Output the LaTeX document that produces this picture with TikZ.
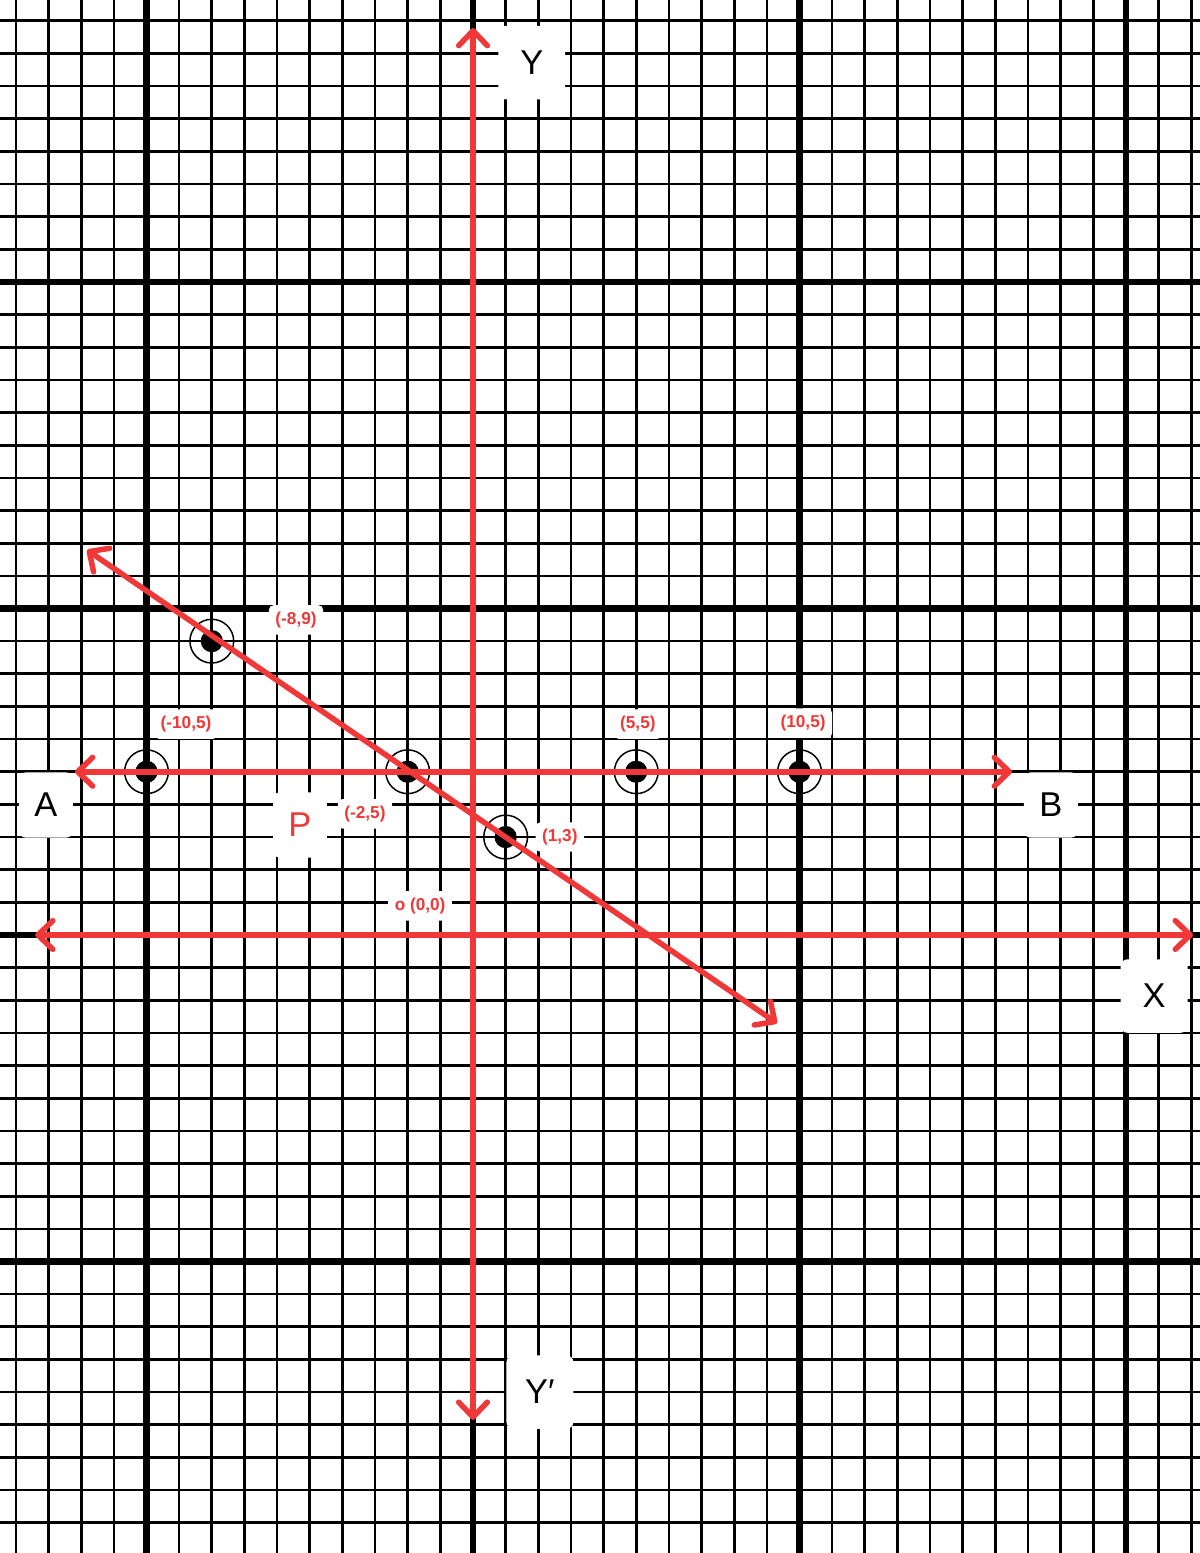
\documentclass[tikz,border=0pt]{standalone}
\usepackage{fontspec}
\setmainfont{Liberation Sans}
\usetikzlibrary{arrows.meta}
\definecolor{redln}{RGB}{240,56,56}
\begin{document}
\begin{tikzpicture}[
  ax/.style={redln,line width=4.8pt,{Straight Barb[round,length=13pt,width=25pt]}-{Straight Barb[round,length=13pt,width=25pt]}},
  big/.style={fill=white,rounded corners=6pt,minimum width=1.65cm,minimum height=2cm,font=\fontsize{30}{36}\selectfont},
  axname/.style={big,minimum width=2.05cm,minimum height=2.25cm},
  lbl/.style={fill=white,rounded corners=4pt,text=redln,minimum height=0.9cm,inner xsep=0.2cm,font=\bfseries\fontsize{15}{17}\selectfont},
  dot/.style={circle,fill=black,inner sep=0pt,minimum size=0.68cm},
  ring/.style={circle,draw=black,line width=1.3pt,inner sep=0pt,minimum size=1.34cm}]
\fill[white] (-14.487,-18.928) rectangle (22.266,28.637);
\useasboundingbox (-14.487,-18.928) rectangle (22.266,28.637);
% graph paper
\draw[line width=2.3pt] (-14.487,-18.928) grid (22.266,28.637);
\draw[line width=5.8pt,step=10] (-14.487,-18.928) grid (22.266,28.637);
% labels
\node[axname] (Y) at (1.80,26.72) {Y};
\node[axname] (Yp) at (2.05,-14.0) {Y′};
\node[axname] (X) at (20.86,-1.87) {X};
\node[big] (A) at (-13.08,3.98) {A};
\node[big] (B) at (17.70,3.98) {B};
\node[big,text=redln] (P) at (-5.30,3.37) {P};
\node[lbl] (l89) at (-5.42,9.65) {(-8,9)};
\node[lbl] (l105) at (-8.79,6.46) {(-10,5)};
\node[lbl] (l55) at (5.05,6.46) {(5,5)};
\node[lbl] (l105b) at (10.11,6.49) {(10,5)};
\node[lbl] (l25) at (-3.31,3.71) {(-2,5)};
\node[lbl] (l13) at (2.66,3.00) {(1,3)};
\node[lbl] (lO) at (-1.62,0.89) {o (0,0)};
% points
\foreach \n/\p in {a/{(-8,9)},b/{(-10,5)},c/{(-2,5)},d/{(5,5)},e/{(10,5)},f/{(1,3)}}{
  \node[dot] (d\n) at \p {};
  \node[ring] (r\n) at \p {};
}
% red lines
\coordinate (yt) at (0,27.78);
\coordinate (yb) at (0,-14.85);
\coordinate (xl) at (-13.41,0);
\coordinate (xr) at (22.05,0);
\coordinate (al) at (-12.19,5);
\coordinate (br) at (16.51,5);
\coordinate (pl) at (-11.82,11.79);
\coordinate (pr) at (9.31,-2.70);
\draw[ax] (yb) -- (yt);
\draw[ax] (xl) -- (xr);
\draw[ax] (al) -- (br);
\draw[ax] (pl) -- (pr);
\end{tikzpicture}
\end{document}
